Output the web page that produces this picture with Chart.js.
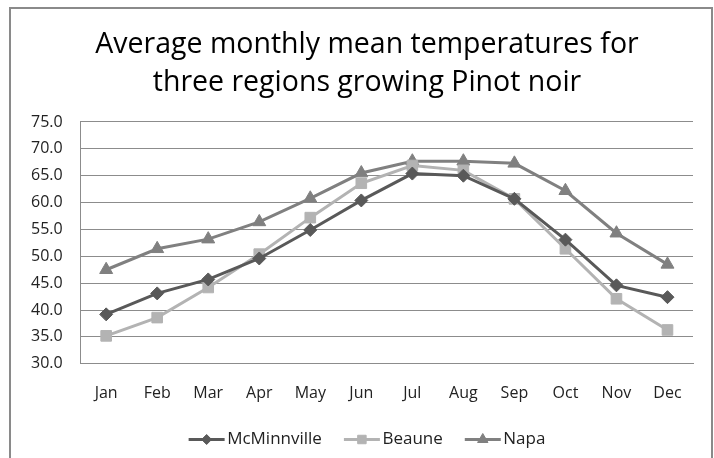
<!DOCTYPE html>
<html>
<head>
<meta charset="utf-8">
<script src="https://cdn.jsdelivr.net/npm/chart.js@4/dist/chart.umd.min.js"></script>
<style>
  html, body { margin: 0; padding: 0; background: #fff; }
  #wrap { position: relative; width: 714px; height: 458px; overflow: hidden; }
  #frame { position: absolute; left: 9px; top: 7px; width: 700px; height: 470px; border: 2px solid #8a8a8a; pointer-events: none; }
  canvas { position: absolute; left: 0; top: 0; }
</style>
</head>
<body>
<div id="wrap">
  <canvas id="c" width="714" height="458"></canvas>
  <div id="frame"></div>
</div>
<script>
const months = ["Jan","Feb","Mar","Apr","May","Jun","Jul","Aug","Sep","Oct","Nov","Dec"];
const mcminnville = [39.2, 43.1, 45.7, 49.6, 54.9, 60.4, 65.4, 65.0, 60.7, 53.1, 44.6, 42.4];
const beaune      = [35.2, 38.6, 44.2, 50.4, 57.2, 63.6, 66.9, 66.0, 60.7, 51.4, 42.1, 36.3];
const napa        = [47.5, 51.4, 53.2, 56.4, 60.8, 65.5, 67.7, 67.7, 67.3, 62.2, 54.3, 48.5];
const seriesNames = ["McMinnville", "Beaune", "Napa"];
const titleLines = ["Average monthly mean temperatures for", "three regions growing Pinot noir"];

const colors = ["#595959", "#b3b3b3", "#808080"];
const styles = ["rectRot", "rect", "triangle"];
const radii = [6.5, 7.5, 7.5];
const legendRadii = [5, 6, 6];

const LINE_LEN = 36;
const SHIFT = 14; // title and legend sit a little right of the canvas centre

const legendLines = {
  id: 'legendLines',
  afterLayout(chart) {
    if (chart.titleBlock) { chart.titleBlock.left += SHIFT; chart.titleBlock.right += SHIFT; }
    if (chart.legend) { chart.legend.left += SHIFT; chart.legend.right += SHIFT; }
  },
  afterDraw(chart) {
    const lg = chart.legend;
    if (!lg || !lg.legendHitBoxes) return;
    const ctx = chart.ctx;
    lg.legendHitBoxes.forEach((hb, i) => {
      const ds = chart.data.datasets[i];
      const cy = hb.top + hb.height / 2;
      const x0 = hb.left;
      ctx.save();
      ctx.strokeStyle = ds.borderColor;
      ctx.lineWidth = 3;
      ctx.beginPath();
      ctx.moveTo(x0, cy);
      ctx.lineTo(x0 + LINE_LEN, cy);
      ctx.stroke();
      ctx.fillStyle = ds.backgroundColor;
      ctx.strokeStyle = ds.borderColor;
      ctx.lineWidth = 1;
      Chart.helpers.drawPoint(ctx, {
        pointStyle: ds.pointStyle, radius: legendRadii[i], borderWidth: 1, rotation: 0
      }, x0 + LINE_LEN / 2, cy);
      ctx.restore();
    });
  }
};

const seriesData = [mcminnville, beaune, napa];
const datasets = seriesData.map((d, i) => ({
  label: seriesNames[i],
  data: d,
  borderColor: colors[i],
  backgroundColor: colors[i],
  pointBackgroundColor: colors[i],
  pointBorderColor: colors[i],
  pointStyle: styles[i],
  pointRadius: radii[i],
  pointBorderWidth: 1,
  borderWidth: 3,
  tension: 0
}));

new Chart(document.getElementById('c'), {
  type: 'line',
  data: { labels: months, datasets },
  plugins: [legendLines],
  options: {
    responsive: false,
    animation: false,
    devicePixelRatio: 1,
    layout: { padding: { top: 26, left: 13, right: 21, bottom: 0 } },
    plugins: {
      title: {
        display: true,
        text: titleLines,
        color: '#000',
        font: { family: 'Open Sans', size: 28.5, weight: 'normal', lineHeight: 1.333 },
        padding: { top: 0, bottom: 20 }
      },
      legend: {
        position: 'bottom',
        labels: {
          usePointStyle: true,
          pointStyleWidth: 30,
          color: '#222',
          font: { family: 'Open Sans', size: 17 },
          padding: 22,
          generateLabels(chart) {
            const items = Chart.defaults.plugins.legend.labels.generateLabels(chart);
            return items.map(it => Object.assign(it, {
              fillStyle: 'rgba(0,0,0,0)', strokeStyle: 'rgba(0,0,0,0)', lineWidth: 0
            }));
          }
        }
      },
      tooltip: { enabled: false }
    },
    scales: {
      x: {
        offset: true,
        grid: { display: false, drawTicks: false },
        border: { display: true, color: '#8c8c8c' },
        ticks: { color: '#222', font: { family: 'Open Sans', size: 16 }, padding: 20 },
        afterFit(scale) { scale.height -= 14; }
      },
      y: {
        min: 30, max: 75,
        grid: { color: '#8c8c8c', drawTicks: false },
        border: { display: true, color: '#8c8c8c' },
        ticks: {
          stepSize: 5, color: '#222', padding: 18,
          font: { family: 'Open Sans', size: 16 },
          callback: v => v.toFixed(1)
        }
      }
    }
  }
});
</script>
</body>
</html>
